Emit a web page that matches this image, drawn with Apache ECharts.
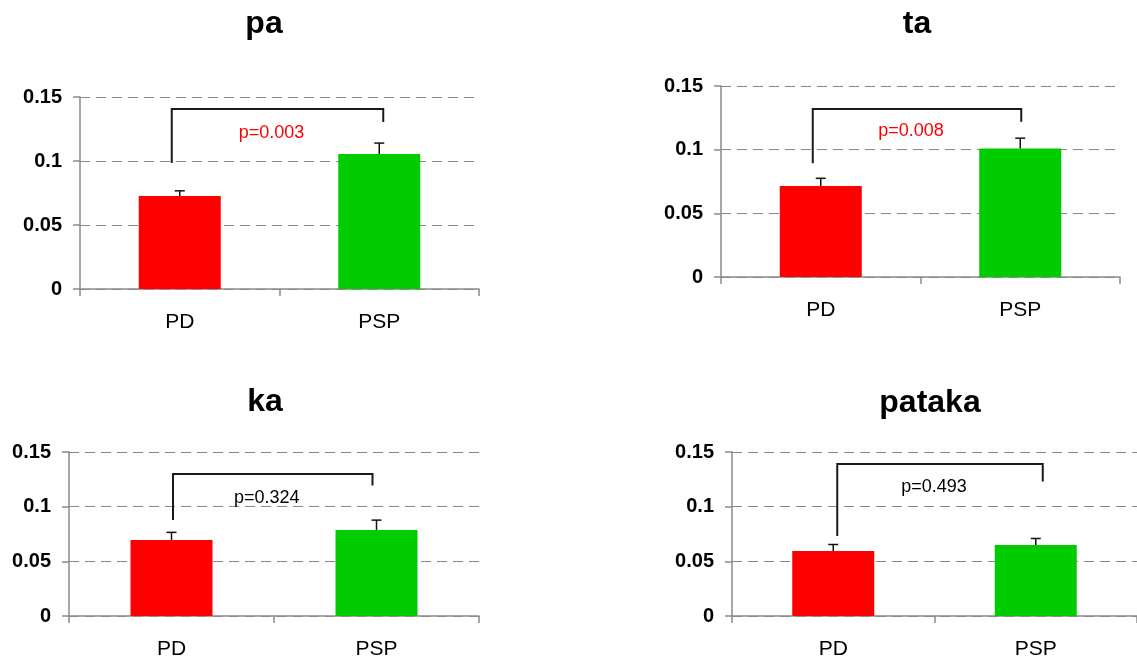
<!DOCTYPE html>
<html>
<head>
<meta charset="utf-8">
<script src="https://cdn.jsdelivr.net/npm/echarts@6/dist/echarts.min.js"></script>
<style>
  html, body { margin: 0; padding: 0; background: #fff; }
  #main { width: 1137px; height: 664px; }
</style>
</head>
<body>
<div id="main"></div>
<script>
// 数据
const categories = ['PD', 'PSP'];
const panelTitles = ['pa', 'ta', 'ka', 'pataka'];
const means = [
    [0.0727, 0.1055],
    [0.0715, 0.101],
    [0.0695, 0.0787],
    [0.0594, 0.0649]
];
const errors = [
    [0.004, 0.0085],
    [0.006, 0.008],
    [0.007, 0.009],
    [0.006, 0.006]
];
const pValues = ['p=0.003', 'p=0.008', 'p=0.324', 'p=0.493'];
const bracketTop = [0.1406, 0.132, 0.1299, 0.139];
const bracketLeftEnd = [0.0984, 0.0894, 0.0879, 0.0732];
const bracketRightEnd = [0.1305, 0.122, 0.1194, 0.123];
const pLabelY = [0.122, 0.1147, 0.1078, 0.1176];
const yMin = 0, yMax = 0.15, yStep = 0.05;

// 布局
const grids = [
    { left: 80, top: 97, width: 399, height: 192 },
    { left: 721, top: 86, width: 399, height: 191 },
    { left: 69, top: 452, width: 410, height: 164 },
    { left: 732, top: 452, width: 409, height: 164 }
];
const legOffsets = [[-8, 4], [-8, 1], [1.5, -4], [4, 7]];
const titlePos = [[264, 24], [917, 24], [265, 402], [930, 403]];
const pColors = ['#ff0000', '#ff0000', '#000000', '#000000'];
const barColors = ['#ff0000', '#00cc00'];
const axisGray = '#8a8a8a';

const xAxes = [], yAxes = [], series = [];

grids.forEach((g, i) => {
    xAxes.push({
        type: 'category',
        gridIndex: i,
        data: categories,
        axisLine: { lineStyle: { color: axisGray, width: 1.5 } },
        axisTick: { show: true, length: 7, lineStyle: { color: axisGray, width: 1.5 } },
        axisLabel: {
            color: '#000',
            fontSize: 21,
            fontFamily: '"Liberation Sans", Arial, sans-serif',
            margin: 23
        }
    });
    yAxes.push({
        type: 'value',
        gridIndex: i,
        min: yMin,
        max: yMax,
        interval: yStep,
        axisLine: { show: true, lineStyle: { color: axisGray, width: 1.5 } },
        axisTick: { show: true, length: 7, lineStyle: { color: axisGray, width: 1.5 } },
        axisLabel: {
            color: '#000',
            fontSize: 20,
            fontWeight: 'bold',
            fontFamily: '"Liberation Sans", Arial, sans-serif',
            margin: 18
        },
        splitLine: {
            show: true,
            lineStyle: { color: '#888', type: [10, 6], width: 1 }
        }
    });

    // 柱子
    series.push({
        type: 'bar',
        xAxisIndex: i,
        yAxisIndex: i,
        barWidth: 82,
        data: means[i].map((v, j) => ({ value: v, itemStyle: { color: barColors[j] } })),
        z: 2
    });

    // 误差线（只画上半）
    series.push({
        type: 'custom',
        xAxisIndex: i,
        yAxisIndex: i,
        z: 3,
        encode: { x: 0, y: [1, 2] },
        data: means[i].map((m, j) => [j, m, m + errors[i][j]]),
        renderItem: function (params, api) {
            const p0 = api.coord([api.value(0), api.value(1)]);
            const p1 = api.coord([api.value(0), api.value(2)]);
            const st = { stroke: '#111', lineWidth: 1.5 };
            return {
                type: 'group',
                children: [
                    { type: 'line', shape: { x1: p0[0], y1: p0[1], x2: p1[0], y2: p1[1] }, style: st },
                    { type: 'line', shape: { x1: p1[0] - 5, y1: p1[1], x2: p1[0] + 5, y2: p1[1] }, style: st }
                ]
            };
        }
    });

    // 显著性括号 + p值
    series.push({
        type: 'custom',
        xAxisIndex: i,
        yAxisIndex: i,
        z: 4,
        encode: { x: 0, y: 1 },
        data: [[0, bracketTop[i]]],
        renderItem: function (params, api) {
            const l = api.coord([0, bracketTop[i]]);
            const r = api.coord([1, bracketTop[i]]);
            const lb = api.coord([0, bracketLeftEnd[i]]);
            const rb = api.coord([1, bracketRightEnd[i]]);
            const ty = api.coord([0, pLabelY[i]])[1];
            const xl = l[0] + legOffsets[i][0];
            const xr = r[0] + legOffsets[i][1];
            return {
                type: 'group',
                children: [
                    {
                        type: 'polyline',
                        shape: { points: [[xl, lb[1]], [xl, l[1]], [xr, l[1]], [xr, rb[1]]] },
                        style: { stroke: '#1a1a1a', lineWidth: 2, fill: null }
                    },
                    {
                        type: 'text',
                        style: {
                            text: pValues[i],
                            x: (xl + xr) / 2 - 6,
                            y: ty,
                            align: 'center',
                            verticalAlign: 'middle',
                            fill: pColors[i],
                            fontSize: 18,
                            fontFamily: '"Liberation Sans", Arial, sans-serif'
                        }
                    }
                ]
            };
        }
    });
});

var myChart = echarts.init(document.getElementById('main'));

const option = {
    animation: false,
    backgroundColor: '#fff',
    grid: grids,
    xAxis: xAxes,
    yAxis: yAxes,
    series: series,
    graphic: panelTitles.map((t, i) => ({
        type: 'text',
        x: titlePos[i][0],
        y: titlePos[i][1],
        style: {
            text: t,
            align: 'center',
            verticalAlign: 'middle',
            fill: '#000',
            fontSize: 32,
            fontWeight: 'bold',
            fontFamily: '"Liberation Sans", Arial, sans-serif'
        }
    }))
};

myChart.setOption(option);
window.addEventListener('resize', myChart.resize);
</script>
</body>
</html>
